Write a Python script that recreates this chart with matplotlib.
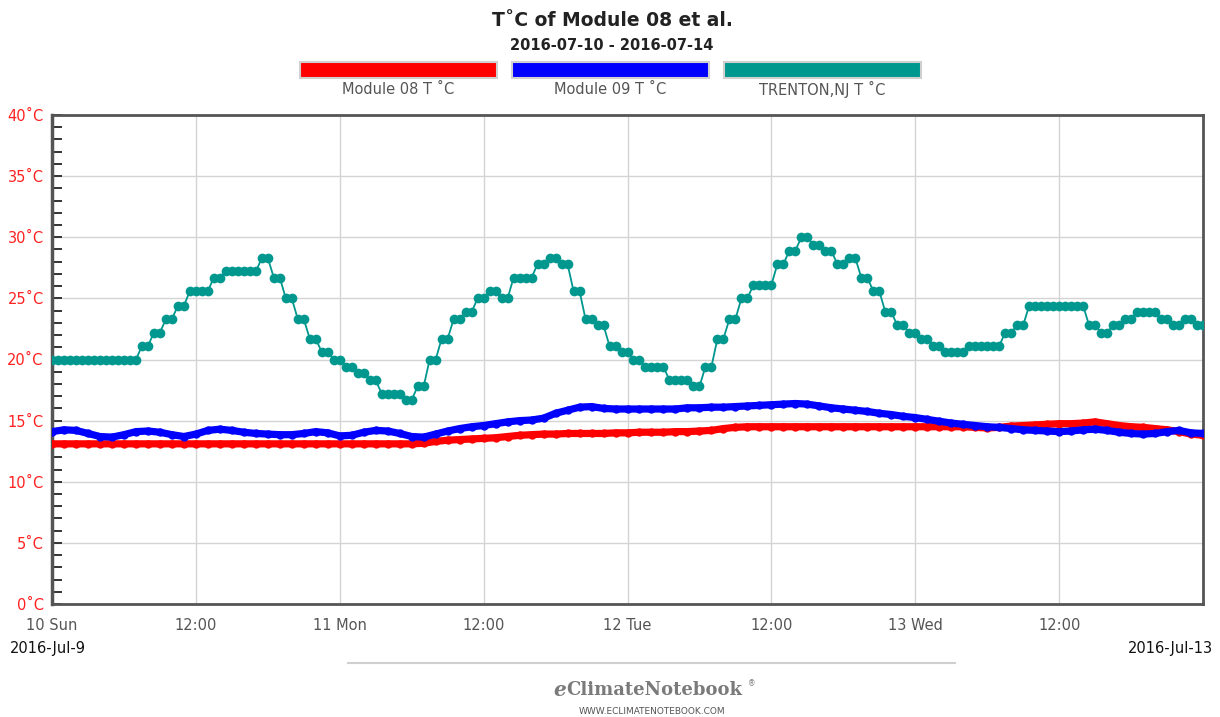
import matplotlib
matplotlib.use('Agg')
import matplotlib.pyplot as plt
from matplotlib.patches import Rectangle
from matplotlib.lines import Line2D
from matplotlib.ticker import MultipleLocator
import numpy as np

# hourly readings, 2016-07-10 00:00 .. 2016-07-14 00:00
hours = np.arange(97)

module08 = [13.1] * 31 + [
    13.15, 13.3, 13.4, 13.45, 13.5, 13.55, 13.6, 13.7, 13.8, 13.85,
    13.9, 13.9, 13.95, 13.95, 13.95, 13.95, 14.0, 14.0, 14.05, 14.05,
    14.05, 14.1, 14.1, 14.15, 14.2, 14.35, 14.45, 14.5] + [14.5] * 18 + [
    14.45, 14.4, 14.45, 14.55, 14.6, 14.65, 14.7, 14.75, 14.75, 14.8,
    14.9, 14.75, 14.6, 14.5, 14.45, 14.35, 14.25, 14.1, 13.9, 13.8]

module09 = [
    14.1, 14.25, 14.2, 13.95, 13.7, 13.65, 13.85, 14.1, 14.15, 14.05,
    13.85, 13.7, 13.9, 14.2, 14.3, 14.2, 14.05, 13.95, 13.9, 13.85,
    13.85, 13.95, 14.1, 14.0, 13.75, 13.8, 14.05, 14.2, 14.15, 13.95,
    13.7, 13.65, 13.9, 14.15, 14.35, 14.5, 14.6, 14.75, 14.9, 15.0,
    15.05, 15.2, 15.6, 15.85, 16.1, 16.15, 16.0, 15.95, 15.95, 15.95,
    15.95, 15.95, 15.95, 16.05, 16.05, 16.1, 16.1, 16.15, 16.2, 16.25,
    16.3, 16.35, 16.4, 16.35, 16.2, 16.05, 15.95, 15.85, 15.75, 15.6,
    15.5, 15.35, 15.25, 15.1, 14.95, 14.8, 14.7, 14.6, 14.5, 14.45,
    14.35, 14.25, 14.2, 14.15, 14.1, 14.15, 14.25, 14.3, 14.2, 14.05,
    13.95, 13.9, 13.95, 14.1, 14.2, 14.0, 13.95]

trenton = [
    20.0, 20.0, 20.0, 20.0, 20.0, 20.0, 20.0, 20.0, 21.1, 22.2,
    23.3, 24.4, 25.6, 25.6, 26.7, 27.2, 27.2, 27.2, 28.3, 26.7,
    25.0, 23.3, 21.7, 20.6, 20.0, 19.4, 18.9, 18.3, 17.2, 17.2,
    16.7, 17.8, 20.0, 21.7, 23.3, 23.9, 25.0, 25.6, 25.0, 26.7,
    26.7, 27.8, 28.3, 27.8, 25.6, 23.3, 22.8, 21.1, 20.6, 20.0,
    19.4, 19.4, 18.3, 18.3, 17.8, 19.4, 21.7, 23.3, 25.0, 26.1,
    26.1, 27.8, 28.9, 30.0, 29.4, 28.9, 27.8, 28.3, 26.7, 25.6,
    23.9, 22.8, 22.2, 21.7, 21.1, 20.6, 20.6, 21.1, 21.1, 21.1,
    22.2, 22.8, 24.4, 24.4, 24.4, 24.4, 24.4, 22.8, 22.2, 22.8,
    23.3, 23.9, 23.9, 23.3, 22.8, 23.3, 22.8]

series_names = ['Module 08 T \u02daC', 'Module 09 T \u02daC', 'TRENTON,NJ T \u02daC']
series_colors = ['#ff0000', '#0000ff', '#00978f']

y_ticks = list(range(0, 41, 5))
y_labels = [f'{v}\u02daC' for v in y_ticks]
x_ticks = [0, 12, 24, 36, 48, 60, 72, 84]
x_labels = ['10 Sun', '12:00', '11 Mon', '12:00', '12 Tue', '12:00', '13 Wed', '12:00']

plt.rcParams['font.family'] = ['DejaVu Sans Condensed', 'DejaVu Sans']

W, H = 1220, 717
fig = plt.figure(figsize=(W / 100, H / 100), dpi=100)
ax = fig.add_axes([52 / W, 1 - 604 / H, (1203 - 52) / W, (604 - 115) / H])

# module series: dense dots form a thick band
for vals, col in zip([module08, module09], series_colors[:2]):
    ax.plot(hours, vals, color=col, lw=5.2, marker='o', ms=6, mew=0,
            solid_capstyle='round', solid_joinstyle='round', zorder=3)

# station readings are hourly, shown as two dots per hour
tx = (hours[:, None] + np.array([-0.5, 0.0])).ravel()
ty = np.repeat(trenton, 2)
ax.plot(tx, ty, color=series_colors[2], lw=1.3, marker='o', ms=7, mew=0, zorder=4)

ax.set_xlim(0, 96)
ax.set_ylim(0, 40)
ax.set_yticks(y_ticks)
ax.set_yticklabels(y_labels)
ax.yaxis.set_minor_locator(MultipleLocator(1))
ax.set_xticks(x_ticks)
ax.set_xticklabels(x_labels)

ax.tick_params(axis='y', which='both', direction='in', length=7, width=1.4,
               color='#333333', labelcolor='#ff2020', labelsize=10.5, pad=6)
ax.tick_params(axis='x', length=0, labelcolor='#555555', labelsize=10.5, pad=10)
ax.grid(True, which='major', color='#d4d4d4', lw=1)
ax.set_axisbelow(True)
for s in ax.spines.values():
    s.set_color('#555555')
    s.set_linewidth(2)
ax.spines['left'].set_linewidth(2.5)

# header
fig.text(612 / W, 1 - 20 / H, 'T\u02daC of Module 08 et al.', ha='center', va='center',
         fontsize=13.5, weight='bold', color='#222222')
fig.text(612 / W, 1 - 45 / H, '2016-07-10 - 2016-07-14', ha='center', va='center',
         fontsize=10.5, weight='bold', color='#222222')

# legend
for i, (name, col) in enumerate(zip(series_names, series_colors)):
    x0 = 300 + i * 212
    fig.add_artist(Rectangle((x0 / W, 1 - 78 / H), 197 / W, 16 / H, transform=fig.transFigure,
                             facecolor=col, edgecolor='#d0d0d0', lw=1.5))
    fig.text((x0 + 98) / W, 1 - 89 / H, name, ha='center', va='center',
             fontsize=10.5, color='#555555')

fig.text(10 / W, 1 - 648 / H, '2016-Jul-9', ha='left', va='center', fontsize=10.5, color='#111111')
fig.text(1213 / W, 1 - 648 / H, '2016-Jul-13', ha='right', va='center', fontsize=10.5, color='#111111')

# footer
fig.add_artist(Line2D([348 / W, 955 / W], [1 - 663 / H] * 2, transform=fig.transFigure,
                      color='#d0d0d0', lw=1.5))
fig.text(566 / W, 1 - 690 / H, 'e', ha='right', va='center', fontsize=14.5, style='italic',
         weight='bold', color='#7a7a7a', family='DejaVu Serif')
fig.text(566 / W, 1 - 690 / H, 'ClimateNotebook', ha='left', va='center', fontsize=13,
         weight='bold', color='#7a7a7a', family='DejaVu Serif')
fig.text(748 / W, 1 - 684 / H, '\u00ae', ha='left', va='center', fontsize=5.5, color='#7a7a7a')
fig.text(652 / W, 1 - 711 / H, 'WWW.ECLIMATENOTEBOOK.COM', ha='center', va='center',
         fontsize=6.5, color='#555555')

fig.savefig('out.png', dpi=100)
